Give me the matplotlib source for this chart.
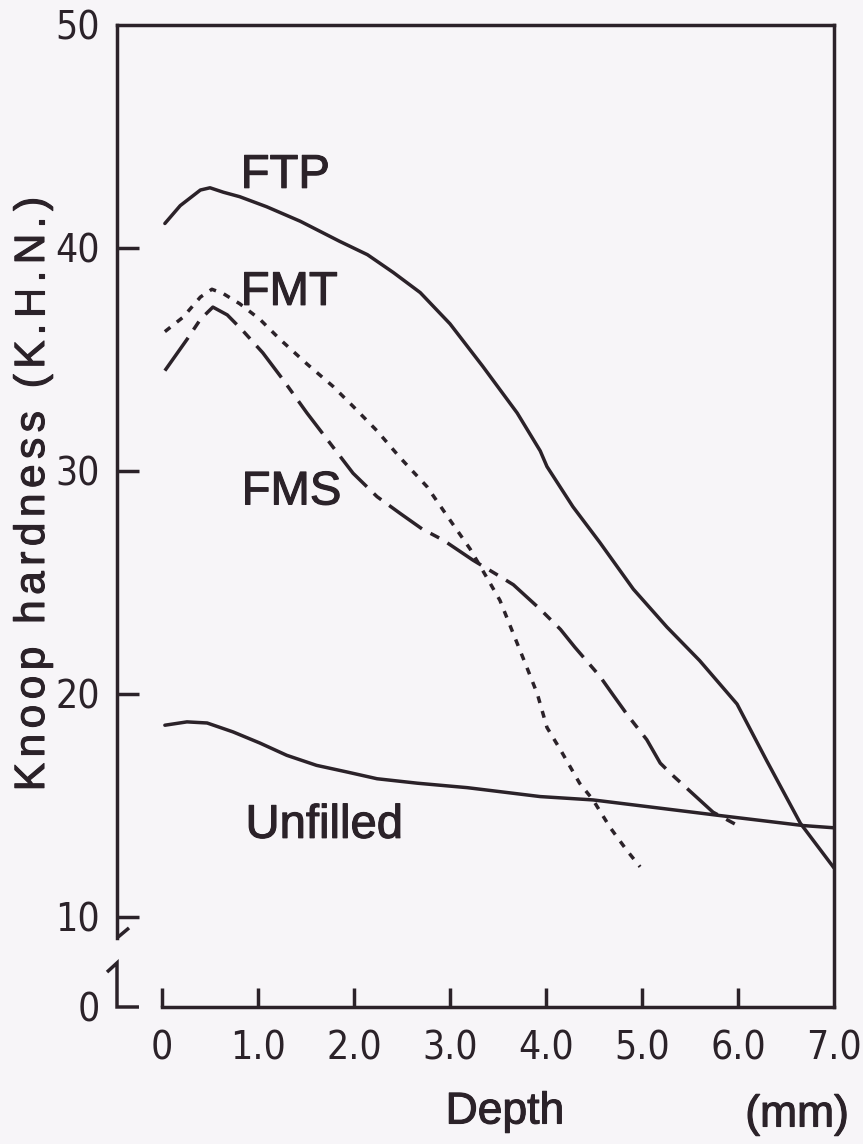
import matplotlib
matplotlib.use("Agg")
import matplotlib.pyplot as plt
import matplotlib.patheffects as pe
from matplotlib import font_manager
from matplotlib.font_manager import FontProperties
from matplotlib.ft2font import FT2Font

# Knoop hardness (K.H.N.) profiles against depth (mm)
ftp_depth = [0.03, 0.19, 0.40, 0.50, 0.64, 0.81, 1.09, 1.44, 1.85, 2.14, 2.41, 2.69,
             3.00, 3.34, 3.70, 3.94, 4.01, 4.28, 4.56, 4.91, 5.26, 5.60, 5.99, 6.30,
             6.65, 7.00]
ftp_hard = [41.1, 41.9, 42.6, 42.7, 42.5, 42.3, 41.85, 41.2, 40.3, 39.7, 38.9, 38.0,
            36.6, 34.7, 32.6, 30.9, 30.2, 28.4, 26.8, 24.7, 23.0, 21.5, 19.55, 17.0,
            14.2, 12.2]

fmt_depth = [0.03, 0.22, 0.40, 0.52, 0.64, 0.81, 1.02, 1.23, 1.51, 1.78, 1.99, 2.24,
             2.48, 2.76, 3.00, 3.21, 3.40, 3.52, 3.66, 3.80, 3.91, 4.01, 4.15, 4.35,
             4.49, 4.67, 4.84, 4.98]
fmt_hard = [36.25, 36.9, 37.8, 38.15, 37.95, 37.5, 36.8, 35.9, 34.8, 33.8, 32.9, 31.8,
            30.6, 29.3, 27.8, 26.5, 25.1, 24.2, 22.7, 21.2, 20.0, 18.5, 17.5, 16.0,
            15.25, 14.0, 13.0, 12.25]

fms_depth = [0.03, 0.26, 0.40, 0.53, 0.68, 0.84, 1.05, 1.26, 1.51, 1.75, 1.99, 2.24,
             2.48, 2.71, 2.93, 3.24, 3.49, 3.66, 3.94, 4.15, 4.30, 4.56, 4.70, 4.85,
             5.05, 5.19, 5.32, 5.60, 5.74, 6.02]
fms_hard = [34.5, 35.9, 36.8, 37.35, 37.0, 36.3, 35.3, 34.1, 32.6, 31.25, 29.9, 28.85,
            28.1, 27.4, 26.9, 26.0, 25.35, 24.9, 23.8, 22.9, 22.1, 20.8, 19.95, 19.05,
            17.95, 16.9, 16.35, 15.25, 14.7, 14.05]

unf_depth = [0.03, 0.26, 0.47, 0.74, 1.02, 1.30, 1.61, 1.93, 2.24, 2.66, 3.18, 3.94,
             4.49, 5.81, 6.68, 7.00]
unf_hard = [18.6, 18.75, 18.7, 18.3, 17.8, 17.25, 16.8, 16.5, 16.2, 16.0, 15.8, 15.4,
            15.25, 14.55, 14.1, 14.0]

x_ticks = [0, 1, 2, 3, 4, 5, 6, 7]
x_tick_labels = ["0", "1.0", "2.0", "3.0", "4.0", "5.0", "6.0", "7.0"]
y_ticks = [10, 20, 30, 40, 50]
y_tick_labels = ["10", "20", "30", "40", "50"]
y_title = "Knoop hardness (K.H.N.)"

# ---------------------------------------------------------------- styling
BG = "#f7f5f8"
INK = "#2b2229"
LW = 2.5
DPI = 100

installed = {f.name for f in font_manager.fontManager.ttflist}


def first_installed(*names):
    for n in names:
        if n in installed:
            return n
    return "DejaVu Sans"


if "Liberation Sans Narrow" in installed:
    num_fp = FontProperties(family="Liberation Sans Narrow", size=30)
else:
    num_fp = FontProperties(family="DejaVu Sans", stretch="condensed", size=28)
label_family = first_installed("Liberation Sans", "Arimo", "DejaVu Sans")
thicken = [pe.withStroke(linewidth=0.8, foreground=INK)]

plt.rcParams["lines.scale_dashes"] = False

W, H = 863, 1144
fig = plt.figure(figsize=(W / DPI, H / DPI), dpi=DPI, facecolor=BG)


def fig_xy(px, py):
    """Pixel position (from top-left) to figure fraction."""
    return px / W, 1 - py / H


# frame placement in pixels
left_px, right_px, top_px, bottom_px = 117, 834, 25, 1007
ax = fig.add_axes([left_px / W, 1 - bottom_px / H,
                   (right_px - left_px) / W, (bottom_px - top_px) / H])
ax.set_facecolor(BG)

# data scale: 96 px per mm, 22.3 px per hardness unit, depth 0 at x=162 px
px_per_x, px_per_y, x0_px = 96.0, 22.3, 162
x_lo = (left_px - x0_px) / px_per_x
y_lo = 50 - (bottom_px - top_px) / px_per_y
ax.set_xlim(x_lo, 7.0)
ax.set_ylim(y_lo, 50)

# curves
ax.plot(ftp_depth, ftp_hard, color=INK, lw=LW, solid_capstyle="round",
        solid_joinstyle="round")
ax.plot(unf_depth, unf_hard, color=INK, lw=LW, solid_capstyle="round",
        solid_joinstyle="round")
ax.plot(fmt_depth, fmt_hard, color=INK, lw=LW, dashes=(5.0, 6.0),
        dash_capstyle="butt")
ax.plot(fms_depth, fms_hard, color=INK, lw=LW, dashes=(29, 7, 7, 7),
        dash_capstyle="butt")

# curve names
name_kw = dict(family=label_family, size=34, color=INK, ha="left", va="baseline",
               path_effects=thicken)
ax.text(0.82, 42.7, "FTP", **name_kw)
ax.text(0.82, 37.45, "FMT", **name_kw)
ax.text(0.83, 28.5, "FMS", **name_kw)
ax.text(0.87, 13.55, "Unfilled", **name_kw)

# spines
break_lo = 9.06
for s in ax.spines.values():
    s.set_linewidth(LW)
    s.set_color(INK)
ax.spines["bottom"].set_bounds(0, 7)
ax.spines["left"].set_bounds(break_lo, 50)

# axis break on the hardness axis
ax.plot([x_lo, x_lo + 0.125], [break_lo, break_lo + 0.45], color=INK, lw=LW,
        clip_on=False, solid_capstyle="butt")
ax.plot([x_lo - 0.104, x_lo, x_lo, x_lo + 0.229],
        [break_lo - 1.53, break_lo - 1.12, y_lo, y_lo],
        color=INK, lw=LW, clip_on=False, solid_joinstyle="miter",
        solid_capstyle="butt")

# ticks
ax.set_xticks(x_ticks, x_tick_labels, fontproperties=num_fp, color=INK)
ax.set_yticks([y_lo] + y_ticks, ["0"] + y_tick_labels, fontproperties=num_fp,
              color=INK)
ax.tick_params(axis="x", direction="in", length=14, width=LW, pad=16, colors=INK,
               top=False)
ax.tick_params(axis="y", direction="in", length=16, width=LW, pad=12, colors=INK,
               right=False)
yt = ax.yaxis.get_major_ticks()
yt[0].tick1line.set_visible(False)
yt[-1].tick1line.set_visible(False)
ax.xaxis.get_major_ticks()[-1].tick1line.set_visible(False)


def spaced_vertical_title(text, baseline_px, center_py, size, tracking_px):
    """Vertical title set letter by letter with extra letter spacing."""
    ft = FT2Font(font_manager.findfont(FontProperties(family=label_family)))
    ft.set_size(size, DPI)
    adv = [ft.load_char(ord(c)).linearHoriAdvance / 65536.0 for c in text]
    total = sum(adv) + tracking_px * (len(text) - 1)
    y = center_py + total / 2.0
    for c, a in zip(text, adv):
        if c != " ":
            fig.text(*fig_xy(baseline_px, y), c, rotation=90, rotation_mode="anchor",
                     family=label_family, size=size, color=INK, ha="left",
                     va="baseline", path_effects=thicken)
        y -= a + tracking_px


spaced_vertical_title(y_title, 44, 494, 30.5, 5.5)

fig.text(*fig_xy(505, 1112), "Depth", family=label_family, size=32,
         color=INK, ha="center", va="center", path_effects=thicken)
fig.text(*fig_xy(797, 1115), "(mm)", family=label_family, size=32,
         color=INK, ha="center", va="center", path_effects=thicken)

fig.savefig("out.png", dpi=DPI, facecolor=BG)
